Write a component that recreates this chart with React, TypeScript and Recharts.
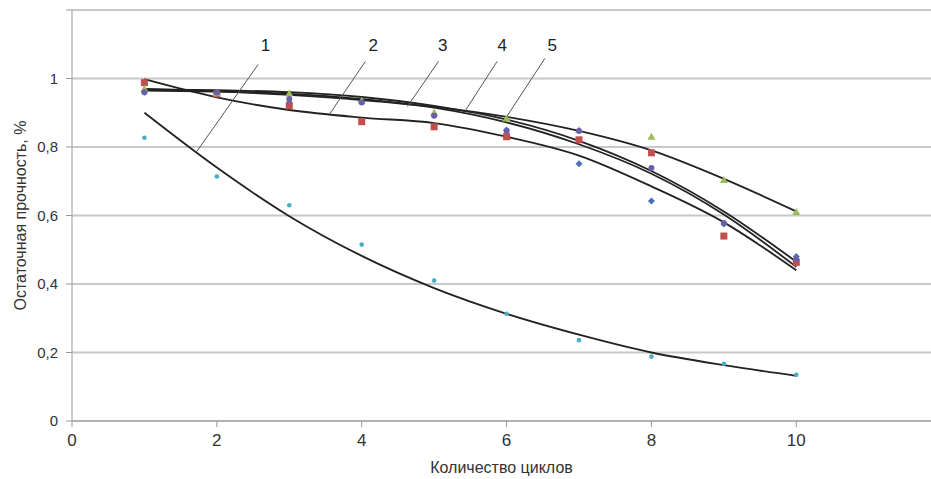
import {
  ComposedChart,
  Line,
  Scatter,
  XAxis,
  YAxis,
  CartesianGrid,
  ReferenceLine,
  ReferenceDot,
  Label,
} from 'recharts'

// cycles on the x axis
const cycles = [1, 2, 3, 4, 5, 6, 7, 8, 9, 10]

const pointsCyan = [0.827, 0.714, 0.63, 0.515, 0.41, 0.313, 0.236, 0.188, 0.167, 0.135]
const pointsBlue = [0.96, 0.955, 0.93, 0.933, 0.895, 0.85, 0.751, 0.642, 0.575, 0.48]
const pointsRed = [0.988, 0.955, 0.92, 0.874, 0.859, 0.83, 0.821, 0.783, 0.54, 0.463]
const pointsGreen = [0.97, 0.957, 0.956, 0.935, 0.9, 0.883, 0.85, 0.83, 0.704, 0.61]
const pointsPurple = [0.96, 0.959, 0.94, 0.93, 0.891, 0.847, 0.847, 0.739, 0.578, 0.472]

// trend curves 1..5, read at each cycle
const trend1 = [0.9, 0.74, 0.598, 0.482, 0.388, 0.313, 0.252, 0.2, 0.163, 0.132]
const trend2 = [0.998, 0.945, 0.908, 0.886, 0.87, 0.83, 0.775, 0.685, 0.58, 0.44]
const trend3 = [0.965, 0.962, 0.955, 0.94, 0.915, 0.872, 0.808, 0.722, 0.603, 0.45]
const trend4 = [0.968, 0.966, 0.96, 0.946, 0.92, 0.88, 0.818, 0.73, 0.612, 0.465]
const trend5 = [0.97, 0.963, 0.952, 0.937, 0.917, 0.888, 0.847, 0.79, 0.707, 0.612]

// curve numbers and their leader lines
const labelNames = ['1', '2', '3', '4', '5']
const labelX = [2.67, 4.16, 5.12, 5.94, 6.63]
const labelY = [1.097, 1.097, 1.097, 1.097, 1.097]
const leaderTopX = [2.57, 4.05, 5.06, 5.87, 6.53]
const leaderTopY = [1.041, 1.05, 1.05, 1.05, 1.059]
const leaderEndX = [1.72, 3.56, 4.63, 5.43, 6.0]
const leaderEndY = [0.786, 0.897, 0.918, 0.906, 0.888]

const xTicks = [0, 2, 4, 6, 8, 10]
const yTicks = [0, 0.2, 0.4, 0.6, 0.8, 1, 1.2]

const data = cycles.map((c, i) => ({
  c,
  pb: pointsBlue[i],
  pr: pointsRed[i],
  pg: pointsGreen[i],
  pp: pointsPurple[i],
  pc: pointsCyan[i],
  t1: trend1[i],
  t2: trend2[i],
  t3: trend3[i],
  t4: trend4[i],
  t5: trend5[i],
}))

const Diamond = ({ cx, cy }: any) => (
  <polygon
    points={`${cx},${cy - 3.5} ${cx + 3.5},${cy} ${cx},${cy + 3.5} ${cx - 3.5},${cy}`}
    fill="#4a6fb5"
  />
)
const Square = ({ cx, cy }: any) => (
  <rect x={cx - 3.5} y={cy - 3.5} width={7} height={7} fill="#c0504d" />
)
const Triangle = ({ cx, cy }: any) => (
  <polygon
    points={`${cx},${cy - 4} ${cx + 4},${cy + 3} ${cx - 4},${cy + 3}`}
    fill="#9bbb59"
  />
)
const Blob = ({ cx, cy }: any) => <circle cx={cx} cy={cy} r={3} fill="#6b5ea8" />
const Dot = ({ cx, cy }: any) => <circle cx={cx} cy={cy} r={2.3} fill="#4bacc6" />

const fmt = (v: number) => (v === 1.2 ? '' : String(v).replace('.', ','))

const narrow = 'Liberation Sans Narrow, Arial Narrow, Liberation Sans'

export default function App() {
  return (
    <div style={{ position: 'absolute', left: 0, top: 0 }}>
      <ComposedChart
        width={931}
        height={479}
        data={data}
        margin={{ top: 10, right: 0, bottom: 0, left: 0 }}
        style={{ fontFamily: 'Liberation Sans, Arial, sans-serif' }}
      >
        <CartesianGrid vertical={false} stroke="#c8c8c8" strokeWidth={2} />
        <XAxis
          dataKey="c"
          type="number"
          domain={[0, 11.86]}
          allowDataOverflow
          ticks={xTicks}
          height={58}
          stroke="#9a9a9a"
          tickSize={6}
          tickMargin={7}
          tick={{ fill: '#333', fontSize: 17, fontFamily: narrow }}
        >
          <Label
            value="Количество циклов"
            position="insideBottom"
            offset={6}
            style={{ fill: '#333', fontSize: 16, fontFamily: narrow }}
          />
        </XAxis>
        <YAxis
          type="number"
          domain={[0, 1.2]}
          ticks={yTicks}
          width={72}
          stroke="#9a9a9a"
          tickSize={6}
          tickMargin={8}
          tickFormatter={fmt}
          tick={{ fill: '#333', fontSize: 15 }}
        >
          <Label
            value="Остаточная прочность, %"
            angle={-90}
            position="insideLeft"
            offset={20}
            style={{ fill: '#333', fontSize: 16, textAnchor: 'middle' }}
          />
        </YAxis>

        <Scatter dataKey="pb" shape={Diamond} isAnimationActive={false} />
        <Scatter dataKey="pr" shape={Square} isAnimationActive={false} />
        <Scatter dataKey="pg" shape={Triangle} isAnimationActive={false} />
        <Scatter dataKey="pp" shape={Blob} isAnimationActive={false} />
        <Scatter dataKey="pc" shape={Dot} isAnimationActive={false} />

        <Line dataKey="t1" type="monotone" stroke="#222" strokeWidth={1.8} dot={false} isAnimationActive={false} />
        <Line dataKey="t2" type="monotone" stroke="#222" strokeWidth={1.8} dot={false} isAnimationActive={false} />
        <Line dataKey="t3" type="monotone" stroke="#222" strokeWidth={1.8} dot={false} isAnimationActive={false} />
        <Line dataKey="t4" type="monotone" stroke="#222" strokeWidth={1.8} dot={false} isAnimationActive={false} />
        <Line dataKey="t5" type="monotone" stroke="#222" strokeWidth={1.8} dot={false} isAnimationActive={false} />

        {labelNames.map((name, i) => (
          <ReferenceLine
            key={'l' + name}
            segment={[
              { x: leaderTopX[i], y: leaderTopY[i] },
              { x: leaderEndX[i], y: leaderEndY[i] },
            ]}
            stroke="#555"
            strokeWidth={1}
          />
        ))}
        {labelNames.map((name, i) => (
          <ReferenceDot
            key={'d' + name}
            x={labelX[i]}
            y={labelY[i]}
            r={0}
            stroke="none"
            fill="none"
            label={{ value: name, position: 'center', fill: '#222', fontSize: 17 }}
          />
        ))}
      </ComposedChart>
    </div>
  )
}
